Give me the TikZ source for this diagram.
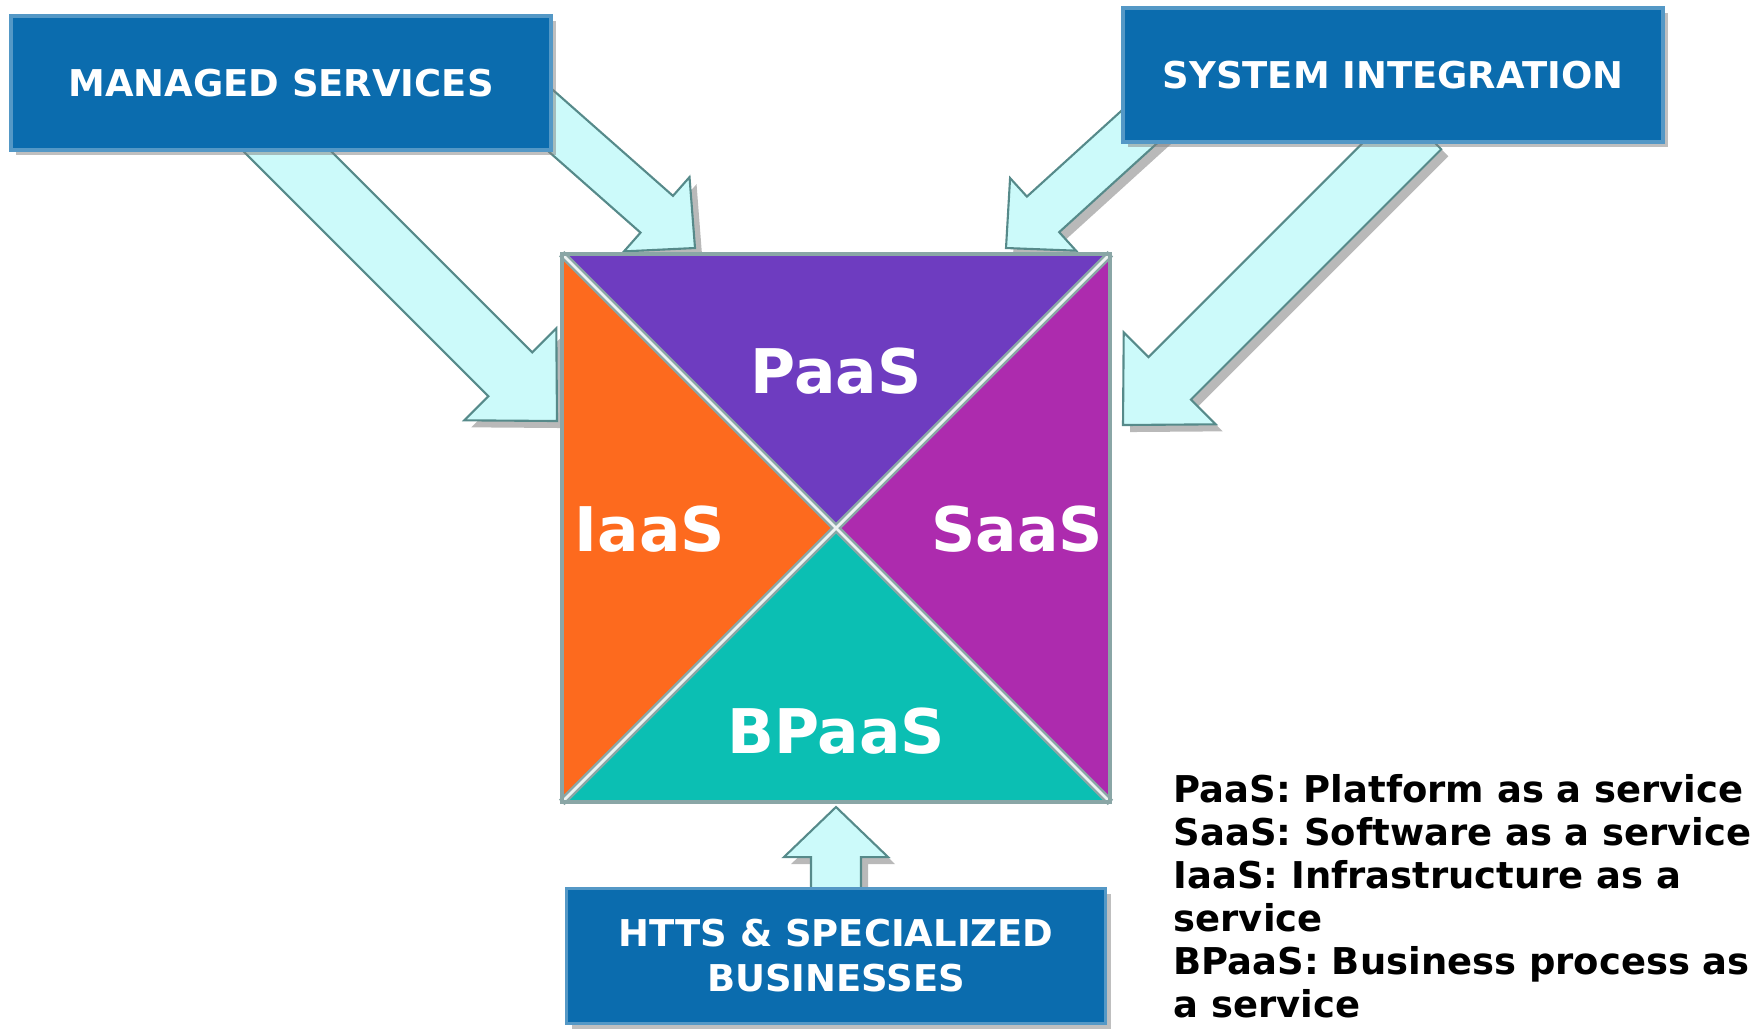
\documentclass[tikz,border=0pt]{standalone}
\usepackage{fontspec}
\setmainfont{DejaVu Sans}
\usetikzlibrary{calc,shadows,positioning}
\definecolor{boxblue}{HTML}{0B6CAE}
\definecolor{paas}{HTML}{6E3CC0}
\definecolor{saas}{HTML}{AD2BAE}
\definecolor{iaas}{HTML}{FD6A1E}
\definecolor{bpaas}{HTML}{0BBFB3}
\definecolor{arrowfill}{HTML}{CCFAFA}
\definecolor{arrowedge}{HTML}{568A8A}
\definecolor{rim}{HTML}{8AA6A6}

\pgfdeclarelayer{back}
\pgfsetlayers{back,main}

\tikzset{
  sbox/.style={fill=boxblue, draw=boxblue!70!white, line width=1pt,
    drop shadow={shadow xshift=1.5pt, shadow yshift=-1.5pt, opacity=0.5},
    text=white, font=\bfseries\fontsize{10.5}{12.8}\selectfont,
    minimum width=5.4cm, minimum height=1.34cm, align=center, inner sep=0pt},
  fat/.style={fill=arrowfill, draw=arrowedge, line width=0.6pt,
    drop shadow={shadow xshift=2pt, shadow yshift=-2pt, opacity=0.55}},
  part/.style={text=white, font=\bfseries\fontsize{17.5}{20}\selectfont, inner sep=0pt},
}

% block arrow: start, tip, shaft half width, head half width, head length
\newcommand{\fatarrow}[5]{%
  \coordinate (fa-b) at ($(#2)!#5!(#1)$);
  \path[fat] ($(#1)!#3!90:(#2)$) -- ($(fa-b)!#3!90:(#2)$) -- ($(fa-b)!#4!90:(#2)$)
    -- (#2) -- ($(fa-b)!#4!-90:(#2)$) -- ($(fa-b)!#3!-90:(#2)$) -- ($(#1)!#3!-90:(#2)$) -- cycle;
}

\begin{document}
\begin{tikzpicture}[x=0.01cm, y=-0.01cm]
  \useasboundingbox (0,0) rectangle (1764,1029);

  % source boxes
  \node[sbox] (managed) at (281,83) {MANAGED SERVICES};
  \node[sbox] (sysint) at (1393,75) {SYSTEM INTEGRATION};
  \node[sbox, minimum width=5.39cm, minimum height=1.35cm] (htts) at (836,956) {HTTS \& SPECIALIZED\\BUSINESSES};

  % the four service triangles
  \node[minimum size=5.47cm, inner sep=0pt] (sq) at (836,528) {};
  \fill[paas] (sq.north west) -- (sq.north east) -- (sq.center) -- cycle;
  \fill[saas] (sq.north east) -- (sq.south east) -- (sq.center) -- cycle;
  \fill[bpaas] (sq.south east) -- (sq.south west) -- (sq.center) -- cycle;
  \fill[iaas] (sq.south west) -- (sq.north west) -- (sq.center) -- cycle;
  \draw[rim, line width=2.2pt] (sq.north west) -- (sq.south east) (sq.north east) -- (sq.south west);
  \draw[white!85!rim, line width=0.8pt] (sq.north west) -- (sq.south east) (sq.north east) -- (sq.south west);
  \draw[rim, line width=1.2pt] (sq.north west) rectangle (sq.south east);

  \node[part] (paasL) at (836,371) {PaaS};
  \node[part] (iaasL) at (650,529) {IaaS};
  \node[part] (saasL) at (1017,529) {SaaS};
  \node[part] (bpaasL) at (836,731) {BPaaS};

  % arrow ends
  \coordinate (msLong0) at (260,124);
  \coordinate (msLong) at (557,421);
  \coordinate (msShort0) at (508,83);
  \coordinate (msShort) at (695,248);
  \coordinate (siShort0) at (1191,80);
  \coordinate (siShort) at (1006,248);
  \coordinate (siLong0) at (1420,128);
  \coordinate (siLong) at (1123,425);
  \coordinate (httsTip) at (836,807);

  % block arrows behind the boxes
  \begin{pgfonlayer}{back}
    \fatarrow{msLong0}{msLong}{0.31cm}{0.65cm}{0.66cm}
    \fatarrow{msShort0}{msShort}{0.245cm}{0.495cm}{0.51cm}
    \fatarrow{siShort0}{siShort}{0.24cm}{0.49cm}{0.5cm}
    \fatarrow{siLong0}{siLong}{0.30cm}{0.65cm}{0.66cm}
    \fatarrow{htts.center}{httsTip}{0.25cm}{0.52cm}{0.5cm}
  \end{pgfonlayer}

  % legend
  \node[anchor=north west, align=left, inner sep=0pt,
    font=\bfseries\fontsize{10.5}{12.2}\selectfont] (legend) at (1173,774)
    {PaaS: Platform as a service\\SaaS: Software as a service\\IaaS: Infrastructure as a\\service\\BPaaS: Business process as\\a service};
\end{tikzpicture}
\end{document}
